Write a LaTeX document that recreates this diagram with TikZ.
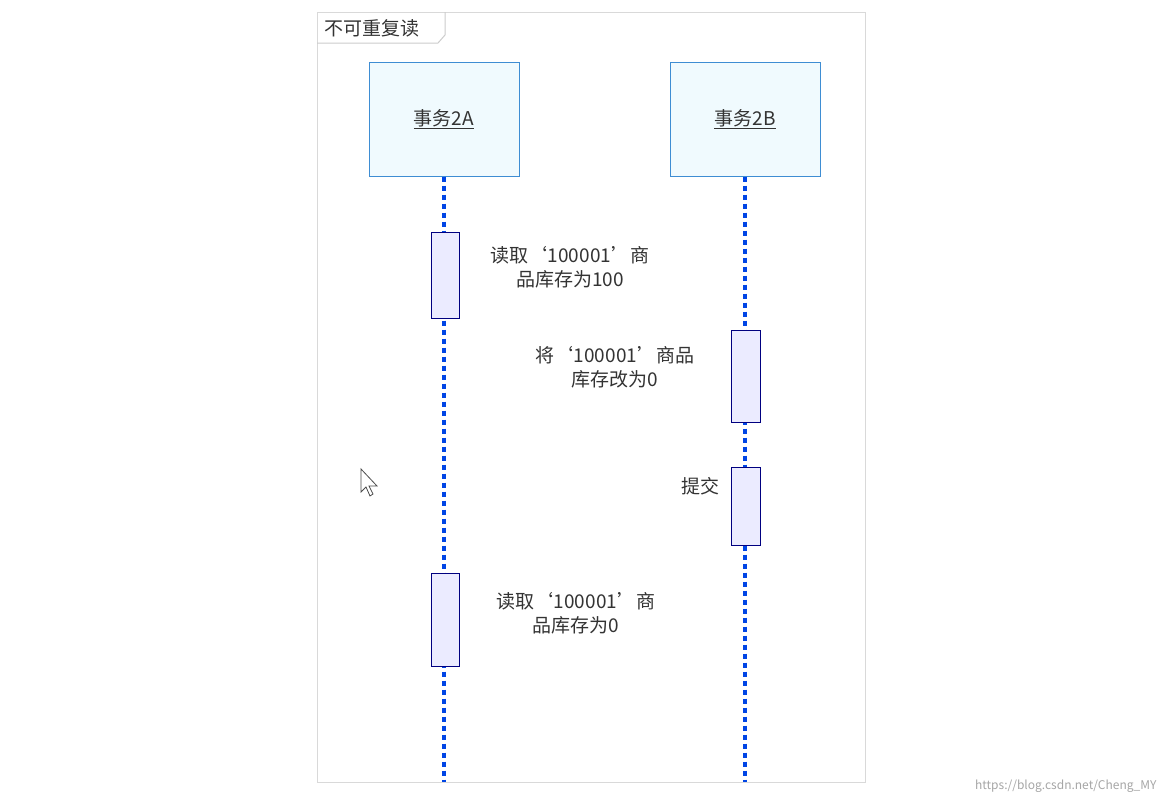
\documentclass[tikz,border=0pt]{standalone}
\usepackage{fontspec}
\setmainfont{Noto Sans CJK SC}
\begin{document}
\begin{tikzpicture}[x=1pt,y=-1pt,
  life/.style={draw=blue!70!cyan!90!black,line width=3.5pt,dash pattern=on 5pt off 4pt},
  headbox/.style={draw=cyan!60!blue!80,fill=cyan!6,line width=1pt},
  actbox/.style={draw=blue!50!black,fill=blue!8,line width=1pt},
  lbl/.style={font=\fontsize{19}{24}\selectfont,text=black!80,align=center,inner sep=0pt}]
\useasboundingbox (0,0) rectangle (1168,804);
\fill[white] (0,0) rectangle (1168,804);
\draw[black!15,line width=1pt] (317,12) rectangle (865,782);
\draw[black!20,line width=1pt] (317,43) -- (438,43) -- (445,35) -- (445,12);
\node[lbl,anchor=west] (title) at (324,28) {不可重复读};
% lifelines
\coordinate (aend) at (444,782);
\coordinate (bend) at (745,782);
\node[headbox,minimum width=150pt,minimum height=114pt] (A) at (444,119) {};
\node[headbox,minimum width=150pt,minimum height=114pt] (B) at (745,119) {};
\draw[life] (A.south) -- (aend);
\draw[life] (B.south) -- (bend);
\node[lbl] (At) at (A.center) {\underline{事务2A}};
\node[lbl] (Bt) at (B.center) {\underline{事务2B}};
\node[actbox,minimum width=28pt,minimum height=86pt] (a1) at (445,275) {};
\node[actbox,minimum width=28pt,minimum height=93pt] (a2) at (445,619.5) {};
\node[actbox,minimum width=29pt,minimum height=92pt] (b1) at (745.5,376) {};
\node[actbox,minimum width=29pt,minimum height=78pt] (b2) at (745.5,506) {};
\node[lbl] (t1) at (570,267) {读取‘100001’商\\品库存为100};
\node[lbl] (t2) at (615,367) {将‘100001’商品\\库存改为0};
\node[lbl] (t3) at (700,486) {提交};
\node[lbl] (t4) at (576,613) {读取‘100001’商\\品库存为0};
% cursor
\draw[black!70,fill=white,line width=0.8pt] (361,469) -- (361,492) -- (366,487) -- (370,496) -- (373,494) -- (369,486) -- (377,486) -- cycle;
\node[font=\fontsize{12}{14}\selectfont,text=black!35,anchor=east] (wm) at (1160,786) {https://blog.csdn.net/Cheng\_MY};
\end{tikzpicture}
\end{document}
